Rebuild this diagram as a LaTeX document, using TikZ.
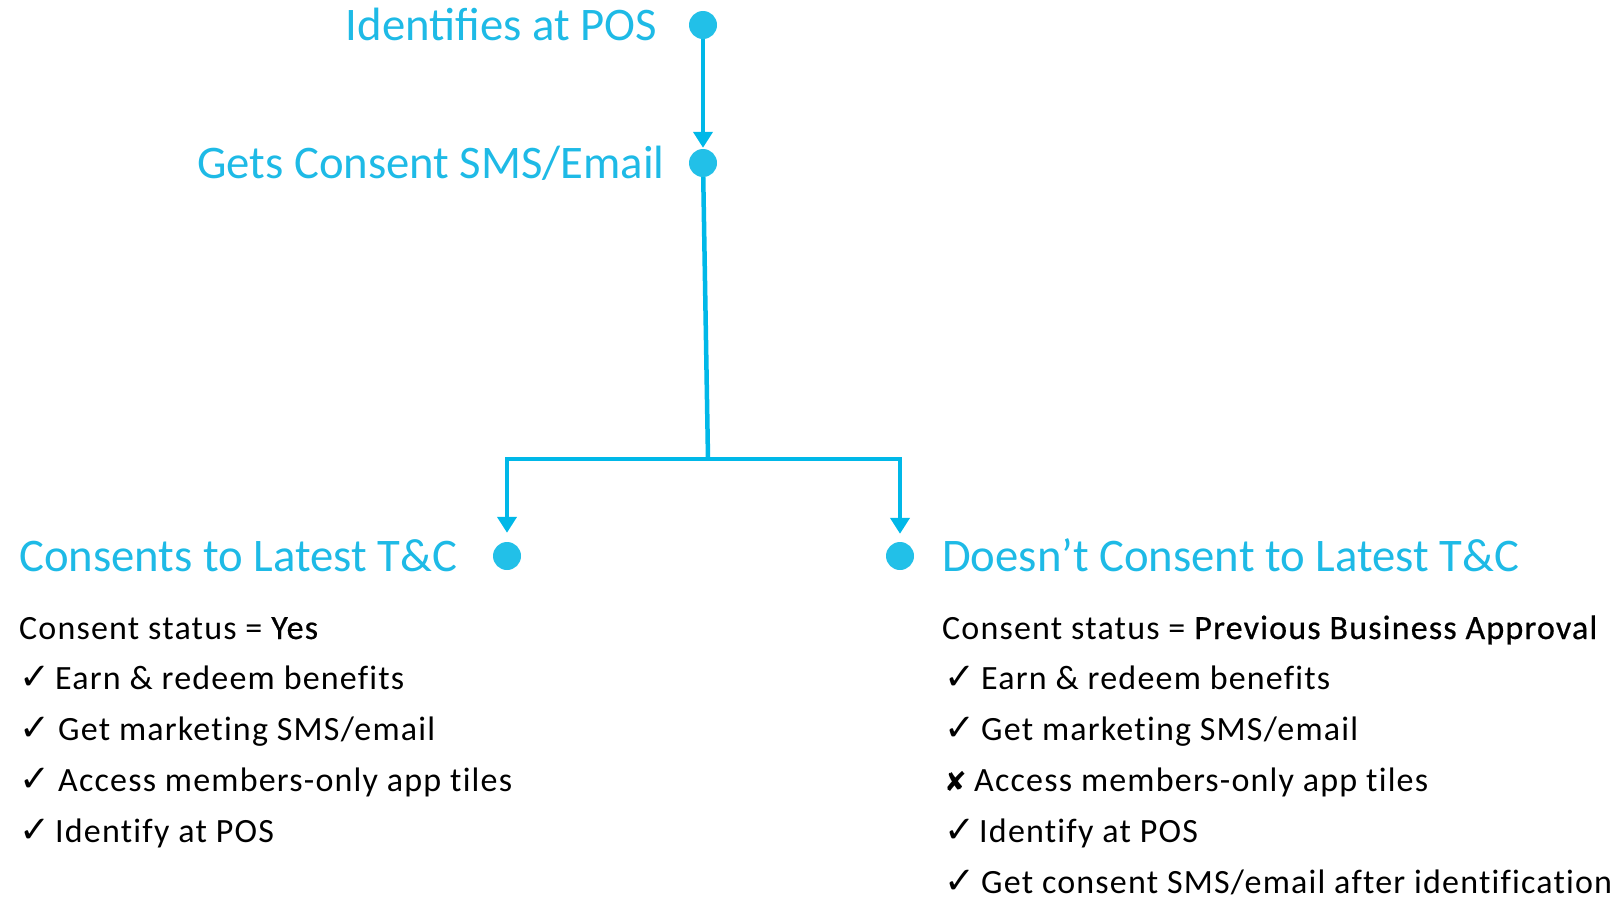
\documentclass[tikz,border=0pt]{standalone}
\usepackage{fontspec}
\setmainfont{Carlito}
\newfontfamily\symf{DejaVu Sans}
\newfontfamily\bodyf[LetterSpace=3.5,Ligatures=NoCommon]{Carlito}
\newfontfamily\heavy[FakeBold=0.6,LetterSpace=3.5,Ligatures=NoCommon]{Carlito}
\usetikzlibrary{arrows.meta}
\definecolor{lineblue}{RGB}{0,184,232}
\definecolor{dotblue}{RGB}{34,192,232}
\definecolor{headblue}{RGB}{30,186,230}
\newcommand{\ck}[1]{\makebox[#1pt][l]{\symf\bfseries\fontsize{37}{37}\selectfont ✓}}
\newcommand{\xk}[1]{\makebox[#1pt][l]{\symf\fontsize{27}{27}\selectfont ✘}}
\tikzset{
  dot/.style={circle, fill=dotblue, draw=none, minimum size=28pt, inner sep=0pt},
  head/.style={text=headblue, inner sep=0pt, font=\fontsize{46.7}{50}\selectfont},
  body/.style={text=black, inner sep=0pt, anchor=base west, font=\bodyf\fontsize{34}{38}\selectfont},
  conn/.style={draw=lineblue, line width=4.5pt, -{Triangle[width=19pt,length=16pt]}},
  plain/.style={draw=lineblue, line width=4.5pt}
}
\begin{document}
\begin{tikzpicture}[x=1pt,y=-1pt]
\useasboundingbox (0,0) rectangle (1623,899);
% dots
\node[dot] (d1) at (703,25) {};
\node[dot] (d2) at (703,163) {};
\node[dot] (d3) at (507,556) {};
\node[dot] (d4) at (900,556) {};
\coordinate (j) at (708,459);
% headings
\node[head, anchor=base east] (h1) at (657,41) {Identifies at POS};
\node[head, anchor=base east] (h2) at (665,178) {Gets Consent SMS/Email};
\node[head, anchor=base west] (h3) at (19,571) {Consents to Latest T\&C};
\node[head, anchor=base west] (h4) at (942,571) {Doesn’t Consent to Latest T\&C};
% connectors
\draw[conn, shorten >=1pt] (d1) -- (d2);
\draw[plain] (d2) -- (j);
\draw[conn, shorten >=9pt] (j) -| (d3);
\draw[conn, shorten >=8pt] (j) -| (d4);
% left column
\node[body] (l1) at (19,639) {Consent status = {\heavy Yes}};
\node[body] (l2) at (19,689) {\ck{36}Earn \& redeem benefits};
\node[body] (l3) at (19,740) {\ck{39}Get marketing SMS/email};
\node[body] (l4) at (19,791) {\ck{39}Access members-only app tiles};
\node[body] (l5) at (19,842) {\ck{36}Identify at POS};
% right column
\node[body] (r1) at (942,639) {Consent status = {\heavy Previous Business Approval}};
\node[body] (r2) at (944,689) {\ck{37}Earn \& redeem benefits};
\node[body] (r3) at (944,740) {\ck{37}Get marketing SMS/email};
\node[body] (r4) at (944,791) {\xk{30}Access members-only app tiles};
\node[body] (r5) at (944,842) {\ck{35}Identify at POS};
\node[body] (r6) at (944,893) {\ck{37}Get consent SMS/email after identification};
\end{tikzpicture}
\end{document}
